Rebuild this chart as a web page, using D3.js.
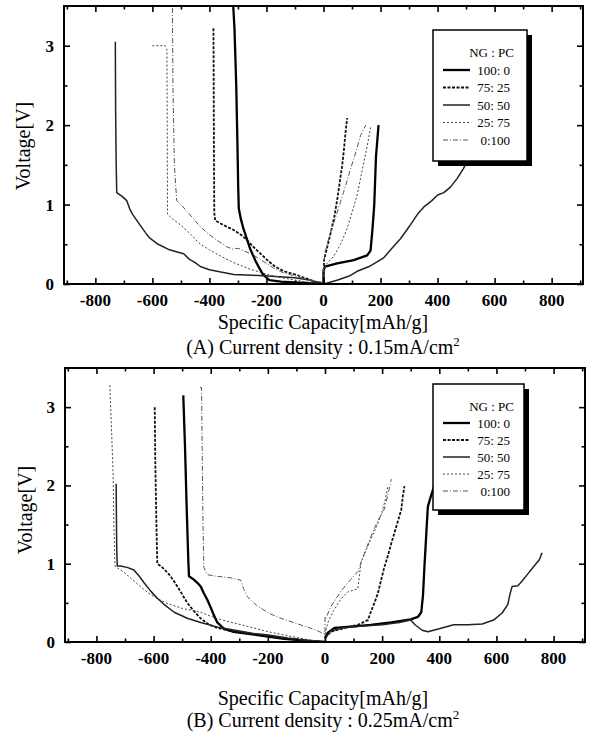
<!DOCTYPE html>
<html lang="en">
<head>
<meta charset="utf-8"/>
<script src="https://d3js.org/d3.v7.min.js"></script>
<title>NG:PC voltage profiles</title>
<style>
    body { margin: 0; background: #fff; }
    svg { display: block; }
    .lbl { font-family: "Liberation Serif", "Times New Roman", serif; font-size: 20px; fill: #000; }
    .leg { font-family: "Liberation Serif", "Times New Roman", serif; font-size: 13px; fill: #000; }
    .tk { font-family: "Liberation Serif", "Times New Roman", serif; font-size: 17px; font-weight: bold; fill: #000; }
</style>
</head>
<body>
<svg id="chart" width="590" height="733"></svg>
<script>
    // series names (NG : PC ratio)
    const ratios = ["100: 0", "75: 25", "50: 50", "25: 75", "0:100"];
    const xTicks = [-800, -600, -400, -200, 0, 200, 400, 600, 800];
    const yTicks = [0, 1, 2, 3];

    // panel A, 0.15 mA/cm2 : [capacity mAh/g, voltage V]
    const aDis100 = [[-318, 3.6], [-312, 3.2], [-306, 2.5], [-302, 1.8], [-299, 1.2], [-297, 0.95], [-290, 0.82], [-281, 0.7], [-270, 0.58], [-258, 0.45], [-247, 0.36], [-237, 0.28], [-225, 0.2], [-214, 0.13], [-200, 0.08], [-190, 0.05], [-150, 0.03], [-100, 0.02], [-50, 0.01], [0, 0]];
    const aChg100 = [[0, 0], [0, 0.17], [5, 0.22], [48, 0.26], [106, 0.3], [153, 0.36], [165, 0.42], [172, 0.7], [178, 1.0], [184, 1.6], [193, 2.0]];
    const aDis75 = [[-386, 3.22], [-385, 2.5], [-384, 1.5], [-383, 0.9], [-380, 0.8], [-350, 0.74], [-315, 0.68], [-290, 0.62], [-270, 0.56], [-244, 0.46], [-220, 0.38], [-197, 0.3], [-170, 0.22], [-139, 0.16], [-100, 0.12], [-60, 0.07], [-30, 0.03], [0, 0]];
    const aChg75 = [[0, 0], [2, 0.3], [10, 0.42], [25, 0.64], [38, 0.85], [48, 1.06], [57, 1.28], [65, 1.48], [72, 1.7], [77, 1.9], [83, 2.09]];
    const aDis50 = [[-730, 3.05], [-729, 2.2], [-727, 1.5], [-725, 1.15], [-705, 1.1], [-690, 1.05], [-680, 0.95], [-670, 0.88], [-645, 0.75], [-625, 0.65], [-610, 0.58], [-580, 0.5], [-540, 0.43], [-510, 0.4], [-490, 0.38], [-470, 0.31], [-450, 0.27], [-432, 0.22], [-400, 0.18], [-360, 0.15], [-315, 0.12], [-250, 0.11], [-197, 0.1], [-100, 0.08], [-50, 0.05], [0, 0]];
    const aChg50 = [[0, 0], [20, 0.02], [50, 0.05], [90, 0.1], [118, 0.16], [160, 0.22], [211, 0.33], [240, 0.45], [270, 0.57], [300, 0.72], [330, 0.88], [352, 0.97], [380, 1.05], [400, 1.12], [422, 1.15], [445, 1.22], [469, 1.33], [490, 1.45], [504, 1.54], [530, 1.7], [560, 1.85], [590, 2.0]];
    const aDis25 = [[-600, 3.0], [-555, 3.0], [-549, 2.95], [-548, 2.0], [-547, 0.88], [-530, 0.82], [-500, 0.74], [-470, 0.64], [-432, 0.5], [-400, 0.43], [-360, 0.35], [-315, 0.27], [-260, 0.19], [-197, 0.12], [-150, 0.08], [-100, 0.05], [-50, 0.02], [0, 0]];
    const aChg25 = [[0, 0.1], [10, 0.25], [36, 0.35], [60, 0.5], [83, 0.7], [100, 0.9], [118, 1.12], [135, 1.42], [153, 1.73], [165, 1.97]];
    const aDis0 = [[-530, 3.6], [-528, 2.5], [-523, 1.5], [-515, 1.05], [-500, 1.0], [-470, 0.88], [-432, 0.72], [-400, 0.62], [-373, 0.55], [-340, 0.47], [-320, 0.44], [-300, 0.45], [-280, 0.42], [-244, 0.36], [-200, 0.26], [-170, 0.19], [-139, 0.14], [-100, 0.1], [-50, 0.05], [0, 0.02]];
    const aChg0 = [[0, 0.15], [5, 0.4], [25, 0.65], [48, 0.9], [70, 1.15], [95, 1.45], [115, 1.68], [130, 1.87], [148, 2.0]];

    // panel B, 0.25 mA/cm2
    const bDis100 = [[-496, 3.15], [-490, 2.5], [-484, 1.7], [-478, 1.0], [-476, 0.84], [-460, 0.8], [-445, 0.75], [-435, 0.71], [-425, 0.63], [-412, 0.54], [-400, 0.44], [-390, 0.35], [-377, 0.25], [-354, 0.17], [-320, 0.13], [-261, 0.1], [-200, 0.07], [-143, 0.04], [-80, 0.02], [0, 0]];
    const bChg100 = [[0, 0.05], [10, 0.12], [33, 0.18], [100, 0.2], [160, 0.22], [232, 0.25], [300, 0.29], [325, 0.32], [337, 0.38], [343, 0.6], [348, 0.96], [354, 1.35], [360, 1.73], [372, 1.88], [383, 2.0], [395, 2.3]];
    const bDis75 = [[-596, 3.0], [-594, 2.3], [-590, 1.5], [-587, 1.0], [-575, 0.97], [-563, 0.93], [-545, 0.86], [-529, 0.78], [-505, 0.64], [-482, 0.5], [-460, 0.4], [-435, 0.3], [-405, 0.22], [-377, 0.18], [-315, 0.13], [-250, 0.1], [-200, 0.08], [-150, 0.05], [-80, 0.02], [0, 0]];
    const bChg75 = [[0, 0.05], [20, 0.13], [60, 0.17], [115, 0.22], [150, 0.28], [161, 0.39], [173, 0.5], [185, 0.62], [197, 0.8], [208, 0.96], [220, 1.1], [232, 1.26], [250, 1.48], [267, 1.69], [272, 1.85], [278, 1.99]];
    const bDis50 = [[-731, 2.02], [-730, 1.6], [-729, 1.2], [-727, 0.97], [-715, 0.97], [-690, 0.95], [-669, 0.92], [-650, 0.84], [-634, 0.76], [-610, 0.65], [-587, 0.56], [-560, 0.47], [-528, 0.38], [-480, 0.3], [-435, 0.25], [-375, 0.19], [-315, 0.15], [-250, 0.11], [-198, 0.09], [-130, 0.05], [-60, 0.02], [0, 0]];
    const bChg50 = [[0, 0.05], [20, 0.14], [60, 0.18], [120, 0.2], [200, 0.22], [260, 0.25], [300, 0.28], [315, 0.22], [340, 0.15], [360, 0.13], [400, 0.17], [450, 0.22], [500, 0.22], [550, 0.23], [590, 0.28], [620, 0.37], [640, 0.48], [648, 0.62], [655, 0.71], [675, 0.72], [690, 0.78], [710, 0.87], [730, 0.96], [750, 1.05], [760, 1.14]];
    const bDis25 = [[-753, 3.28], [-748, 2.8], [-742, 2.2], [-739, 1.5], [-735, 0.97], [-720, 0.93], [-700, 0.88], [-675, 0.8], [-650, 0.72], [-620, 0.63], [-590, 0.56], [-550, 0.49], [-500, 0.43], [-435, 0.38], [-380, 0.3], [-315, 0.24], [-250, 0.18], [-198, 0.13], [-130, 0.08], [-60, 0.03], [0, 0]];
    const bChg25 = [[0, 0.1], [9, 0.24], [30, 0.4], [56, 0.55], [80, 0.64], [115, 0.68], [126, 1.02], [145, 1.18], [161, 1.32], [180, 1.47], [196, 1.62], [210, 1.8], [220, 1.99]];
    const bDis0 = [[-438, 3.25], [-432, 3.25], [-430, 2.5], [-427, 1.5], [-424, 0.95], [-412, 0.86], [-380, 0.84], [-330, 0.82], [-295, 0.79], [-285, 0.68], [-272, 0.58], [-240, 0.47], [-198, 0.37], [-160, 0.31], [-119, 0.26], [-70, 0.2], [-30, 0.15], [-7, 0.11], [0, 0.1]];
    const bChg0 = [[0, 0.0], [0, 0.32], [3, 0.3], [20, 0.45], [56, 0.65], [90, 0.8], [115, 0.9], [140, 1.15], [161, 1.35], [185, 1.55], [208, 1.7], [220, 1.88], [232, 2.08]];

    // line look per ratio
    const styles = [
        {w: 2.3, dash: null, c: "#000"},
        {w: 1.8, dash: "3,1.5", c: "#111"},
        {w: 1.5, dash: null, c: "#222"},
        {w: 1.0, dash: "2,2", c: "#444"},
        {w: 1.0, dash: "5,2,1,2", c: "#555"}
    ];

    const svg = d3.select("#chart");

    function drawPanel(p) {
        const x = d3.scaleLinear().domain([-910, 910]).range([p.left, p.right]);
        const y = d3.scaleLinear().domain([0, 3.5]).range([p.bottom, p.top]);
        const g = svg.append("g");

        g.append("clipPath").attr("id", "clip" + p.id)
            .append("rect")
            .attr("x", p.left).attr("y", p.top)
            .attr("width", p.right - p.left).attr("height", p.bottom - p.top);

        const line = d3.line().x(d => x(d[0])).y(d => y(d[1]));
        const curves = g.append("g").attr("clip-path", "url(#clip" + p.id + ")");
        p.series.forEach((pair, i) => {
            pair.forEach(arr => {
                curves.append("path")
                    .attr("d", line(arr))
                    .attr("fill", "none")
                    .attr("stroke", styles[i].c)
                    .attr("stroke-width", styles[i].w)
                    .attr("stroke-dasharray", styles[i].dash)
                    .attr("stroke-linejoin", "round");
            });
        });

        const minorX = d3.range(-900, 901, 100).filter(v => v % 200 !== 0);
        const minorY = [0.5, 1.5, 2.5];

        // tick marks only, pointing inwards on all four sides
        const marks = [
            [d3.axisBottom(x).tickValues(xTicks).tickSize(-6), `translate(0,${p.bottom})`],
            [d3.axisBottom(x).tickValues(minorX).tickSize(-3.5), `translate(0,${p.bottom})`],
            [d3.axisTop(x).tickValues(xTicks).tickSize(-6), `translate(0,${p.top})`],
            [d3.axisTop(x).tickValues(minorX).tickSize(-3.5), `translate(0,${p.top})`],
            [d3.axisLeft(y).tickValues(yTicks).tickSize(-6), `translate(${p.left},0)`],
            [d3.axisLeft(y).tickValues(minorY).tickSize(-3.5), `translate(${p.left},0)`],
            [d3.axisRight(y).tickValues(yTicks).tickSize(-6), `translate(${p.right},0)`],
            [d3.axisRight(y).tickValues(minorY).tickSize(-3.5), `translate(${p.right},0)`]
        ];
        marks.forEach(([ax, tr]) => {
            g.append("g").attr("transform", tr).call(ax.tickFormat(""));
        });
        g.selectAll(".domain").remove();
        g.selectAll(".tick text").remove();
        g.selectAll(".tick line").attr("stroke", "#000").attr("stroke-width", 1.6);

        // tick labels
        g.selectAll("text.xt").data(xTicks).join("text")
            .attr("class", "tk xt")
            .attr("x", d => x(d)).attr("y", p.bottom + p.xtDy)
            .attr("text-anchor", "middle")
            .text(d => String(d));
        g.selectAll("text.yt").data(yTicks).join("text")
            .attr("class", "tk yt")
            .attr("x", p.left - 10).attr("y", d => y(d) + 6)
            .attr("text-anchor", "end")
            .text(d => String(d));

        g.append("rect")
            .attr("x", p.left).attr("y", p.top)
            .attr("width", p.right - p.left).attr("height", p.bottom - p.top)
            .attr("fill", "none").attr("stroke", "#000").attr("stroke-width", 2);

        // legend
        const L = p.legend;
        g.append("rect").attr("x", L.x + 5).attr("y", L.y + 5).attr("width", L.w).attr("height", L.h).attr("fill", "#000");
        g.append("rect").attr("x", L.x).attr("y", L.y).attr("width", L.w).attr("height", L.h)
            .attr("fill", "#fff").attr("stroke", "#000").attr("stroke-width", 1.5);
        g.append("text").attr("class", "leg").attr("x", L.x + 81).attr("y", L.y + 27)
            .attr("text-anchor", "end").text("NG : PC");
        ratios.forEach((r, i) => {
            const ry = L.y + L.rowTop + i * L.rowGap;
            g.append("line").attr("x1", L.x + 10).attr("x2", L.x + 37).attr("y1", ry).attr("y2", ry)
                .attr("stroke", styles[i].c).attr("stroke-width", styles[i].w)
                .attr("stroke-dasharray", styles[i].dash);
            g.append("text").attr("class", "leg").attr("x", L.x + 77).attr("y", ry + 4.5)
                .attr("text-anchor", "end").text(r);
        });

        svg.append("text").attr("class", "lbl")
            .attr("transform", `translate(${p.yLabX},${p.yLabY}) rotate(-90)`)
            .attr("text-anchor", "middle").text("Voltage[V]");
        svg.append("text").attr("class", "lbl").attr("x", 323).attr("y", p.xLabY)
            .attr("text-anchor", "middle").text("Specific Capacity[mAh/g]");
        const cap = svg.append("text").attr("class", "lbl").attr("x", 323).attr("y", p.capY)
            .attr("text-anchor", "middle");
        cap.append("tspan").text(p.caption + "mA/cm");
        cap.append("tspan").attr("dy", -8).attr("font-size", 13).text("2");
    }

    drawPanel({
        id: "A", left: 64, right: 583, top: 6, bottom: 284,
        series: [[aDis100, aChg100], [aDis75, aChg75], [aDis50, aChg50], [aDis25, aChg25], [aDis0, aChg0]],
        legend: {x: 433, y: 30, w: 94, h: 131, rowTop: 40, rowGap: 17.5},
        xtDy: 22, yLabX: 30, yLabY: 146, xLabY: 329, capY: 354,
        caption: "(A) Current density : 0.15"
    });
    drawPanel({
        id: "B", left: 65, right: 585, top: 368, bottom: 642,
        series: [[bDis100, bChg100], [bDis75, bChg75], [bDis50, bChg50], [bDis25, bChg25], [bDis0, bChg0]],
        legend: {x: 433, y: 384, w: 91, h: 126, rowTop: 39, rowGap: 17},
        xtDy: 22, yLabX: 32, yLabY: 510, xLabY: 705, capY: 727,
        caption: "(B) Current density : 0.25"
    });
</script>
</body>
</html>
